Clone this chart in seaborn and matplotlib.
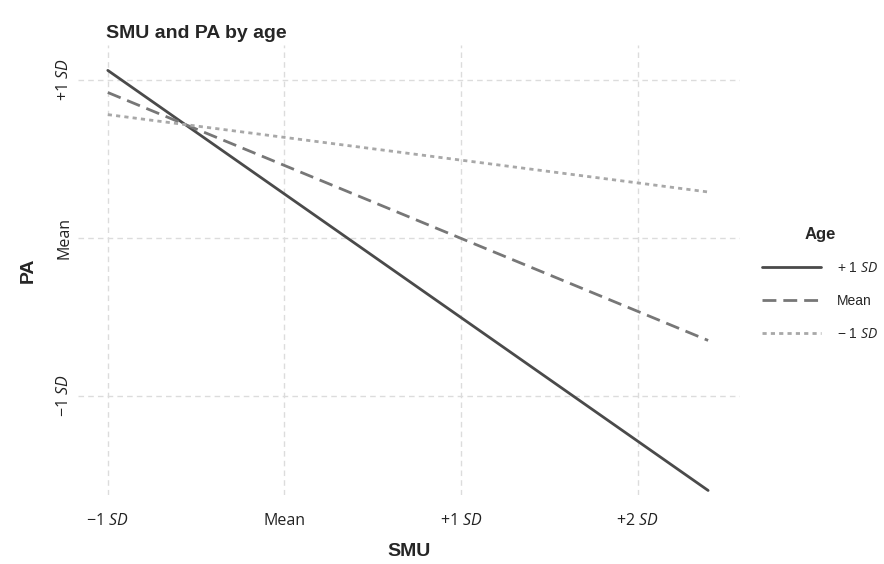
import pandas as pd
import seaborn as sns
import matplotlib.pyplot as plt

# simple slopes: SMU (x) -> PA (y) at three levels of age
smu = [-1.0, 2.4]
age_groups = ["+ 1 $\\mathit{SD}$", "Mean", "\u2212 1 $\\mathit{SD}$"]
pa_plus = [1.06, -1.60]
pa_mean = [0.92, -0.65]
pa_minus = [0.78, 0.29]

x_ticks = [-1, 0, 1, 2]
x_labels = ["\u22121 $\\mathit{SD}$", "Mean", "+1 $\\mathit{SD}$", "+2 $\\mathit{SD}$"]
y_ticks = [-1, 0, 1]
y_labels = ["\u22121 $\\mathit{SD}$", "Mean", "+1 $\\mathit{SD}$"]

rows = []
for grp, vals in zip(age_groups, [pa_plus, pa_mean, pa_minus]):
    for xv, yv in zip(smu, vals):
        rows.append({"SMU": xv, "PA": yv, "Age": grp})
df = pd.DataFrame(rows)

sns.set_style("white")
plt.rcParams['font.family'] = ['Liberation Sans', 'DejaVu Sans']
plt.rcParams['mathtext.fontset'] = 'custom'
plt.rcParams['mathtext.it'] = 'Open Sans:italic'
plt.rcParams['mathtext.rm'] = 'Open Sans'

fig = plt.figure(figsize=(8.84, 5.64), dpi=100)
ax = fig.add_axes([0.088, 0.122, 0.749, 0.798])

palette = {age_groups[0]: "#4a4a4a", age_groups[1]: "#777777", age_groups[2]: "#a8a8a8"}
dashes = {age_groups[0]: "", age_groups[1]: (5, 2.5), age_groups[2]: (1.5, 1.5)}
sns.lineplot(data=df, x="SMU", y="PA", hue="Age", style="Age",
             hue_order=age_groups, style_order=age_groups,
             palette=palette, dashes=dashes, linewidth=2, ax=ax)

ax.set_xlim(-1.17, 2.58)
ax.set_ylim(-1.63, 1.22)
ax.set_xticks(x_ticks)
ax.set_xticklabels(x_labels, fontfamily="Open Sans", fontsize=11.5, color="#222222")
ax.set_yticks(y_ticks)
ax.set_yticklabels(y_labels, fontfamily="Open Sans", fontsize=11.5, color="#222222",
                   rotation=90, va="center")
ax.tick_params(axis="x", length=0, pad=13)
ax.tick_params(axis="y", length=0, pad=4)
ax.grid(True, color="#dcdcdc", linestyle=(0, (4, 3)), linewidth=1)
for s in ax.spines.values():
    s.set_visible(False)

ax.set_xlabel("SMU", fontsize=14, fontweight="bold", labelpad=10)
ax.set_ylabel("PA", fontsize=14, fontweight="bold", labelpad=14)
fig.text(0.12, 0.933, "SMU and PA by age", fontsize=14, fontweight="bold")

leg = ax.legend(title="Age", loc="center left", bbox_to_anchor=(1.015, 0.47),
                frameon=False, fontsize=10, handlelength=4.2, handletextpad=1.2,
                labelspacing=1.35)
leg.get_title().set_fontweight("bold")
leg.get_title().set_fontsize(12)
leg._legend_box.sep = 14

plt.savefig("out.png", dpi=100)
